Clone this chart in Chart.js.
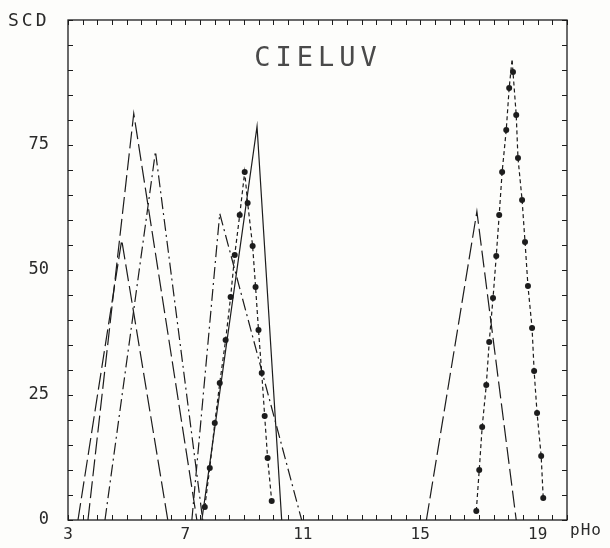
<!DOCTYPE html>
<html>
<head>
<meta charset="utf-8">
<script src="https://cdn.jsdelivr.net/npm/chart.js@4.4.1/dist/chart.umd.min.js"></script>
<style>
  html, body { margin: 0; padding: 0; background: #fdfdfb; }
  #wrap { width: 610px; height: 548px; }
</style>
</head>
<body>
<div id="wrap"><canvas id="chart_scd" width="610" height="548"></canvas></div>
<script>
// tick labels
const xLabels = [3, 7, 11, 15, 19];
const yLabels = [0, 25, 50, 75];

// long dash peaks
const pHoA = [3.68, 5.24, 7.39];
const scdA = [0, 81.3, 0];
const pHoB = [3.34, 4.83, 6.40];
const scdB = [0, 56, 0];
const pHoH = [15.21, 16.93, 18.27];
const scdH = [0, 61.7, 0];

// dash-dot peaks
const pHoC = [4.26, 5.98, 7.59];
const scdC = [0, 73.7, 0];
const pHoD = [7.22, 8.17, 10.96];
const scdD = [0, 61.3, 0];

// solid peak
const pHoE = [7.56, 9.44, 10.28];
const scdE = [0, 78.7, 0];

// dotted series with markers
const pHoF = [7.66, 7.83, 8.00, 8.17, 8.37, 8.54, 8.68, 8.85, 9.02, 9.12, 9.29, 9.39, 9.49, 9.60, 9.70, 9.80, 9.94];
const scdF = [2.6, 10.4, 19.4, 27.4, 36, 44.6, 53, 61, 69.6, 63.4, 54.8, 46.6, 38, 29.4, 20.8, 12.4, 3.8];
const pHoG = [16.91, 17.01, 17.11, 17.25, 17.35, 17.48, 17.59, 17.69, 17.79, 17.93, 18.03, 18.13, 18.16, 18.27, 18.33, 18.47, 18.57, 18.67, 18.81, 18.88, 18.98, 19.12, 19.19];
const scdG = [1.8, 10, 18.6, 27, 35.6, 44.4, 52.8, 61, 69.6, 78, 86.4, 92.2, 89.6, 81, 72.4, 64, 55.6, 46.8, 38.4, 29.8, 21.4, 12.8, 4.4];
const gPeak = 11;

const ink = "#1c1c1c";
const mono = "'DejaVu Sans Mono', 'Liberation Mono', monospace";

function pts(xs, ys) {
  return xs.map((x, i) => ({x: x, y: ys[i]}));
}

function lineSet(xs, ys, dash) {
  return {
    data: pts(xs, ys),
    borderColor: ink,
    borderWidth: 1.2,
    borderDash: dash,
    pointRadius: 0,
    fill: false,
    tension: 0
  };
}

const longDash = [17, 5];
const dashDot = [12, 4, 2, 4];

const datasets = [
  lineSet(pHoA, scdA, longDash),
  lineSet(pHoB, scdB, longDash),
  lineSet(pHoH, scdH, longDash),
  lineSet(pHoC, scdC, dashDot),
  lineSet(pHoD, scdD, dashDot),
  lineSet(pHoE, scdE, []),
  Object.assign(lineSet(pHoF, scdF, [4, 3]), {pointRadius: 3, pointBackgroundColor: ink, pointBorderColor: ink, pointBorderWidth: 0}),
  Object.assign(lineSet(pHoG, scdG, [4, 3]), {
    pointRadius: ctx => ctx.dataIndex === gPeak ? 0 : 3,
    pointBackgroundColor: ink, pointBorderColor: ink, pointBorderWidth: 0
  })
];

function spacedText(ctx, text, x, y, spacing) {
  ctx.letterSpacing = spacing + "px";
  ctx.fillText(text, x, y);
  ctx.letterSpacing = "0px";
}

// frame, inward ticks and the free texts
const framePlugin = {
  id: "frame",
  afterDraw(chart) {
    const ctx = chart.ctx;
    const a = chart.chartArea;
    const xs = chart.scales.x, ys = chart.scales.y;
    ctx.save();
    ctx.strokeStyle = ink;
    ctx.lineWidth = 1.3;
    ctx.strokeRect(a.left, a.top, a.right - a.left, a.bottom - a.top);
    ctx.lineWidth = 1;
    ctx.beginPath();
    xs.ticks.forEach(t => {
      const p = Math.round(xs.getPixelForValue(t.value)) + 0.5;
      ctx.moveTo(p, a.bottom); ctx.lineTo(p, a.bottom - 5);
      ctx.moveTo(p, a.top); ctx.lineTo(p, a.top + 5);
    });
    ys.ticks.forEach(t => {
      const p = Math.round(ys.getPixelForValue(t.value)) + 0.5;
      ctx.moveTo(a.left, p); ctx.lineTo(a.left + 5, p);
      ctx.moveTo(a.right, p); ctx.lineTo(a.right - 5, p);
    });
    ctx.stroke();

    ctx.fillStyle = "#2a2a2a";
    ctx.textBaseline = "middle";
    ctx.textAlign = "left";
    ctx.font = "18px " + mono;
    spacedText(ctx, "SCD", 8, 21, 3);
    ctx.font = "16px " + mono;
    spacedText(ctx, "pHo", 570, 531, 1);
    ctx.fillStyle = "#4a4a4a";
    ctx.font = "27px " + mono;
    ctx.textAlign = "center";
    spacedText(ctx, "CIELUV", 318, 59, 5);
    ctx.restore();
  }
};

const chart_scd = new Chart("chart_scd", {
  type: "line",
  data: {datasets: datasets},
  options: {
    responsive: false,
    animation: false,
    layout: {padding: {top: 20, right: 43, left: 0, bottom: 0}},
    plugins: {legend: {display: false}, tooltip: {enabled: false}},
    scales: {
      x: {
        type: "linear",
        min: 3,
        max: 20,
        grid: {display: false, drawTicks: false},
        border: {display: false},
        afterFit: s => { s.height = 28; s.paddingLeft = 0; s.paddingRight = 0; },
        ticks: {
          stepSize: 0.5,
          autoSkip: false,
          maxRotation: 0,
          padding: 5,
          color: "#2a2a2a",
          font: {family: mono, size: 16},
          callback: v => xLabels.includes(v) ? String(v) : ""
        }
      },
      y: {
        min: 0,
        max: 100,
        grid: {display: false, drawTicks: false},
        border: {display: false},
        afterFit: s => { s.width = 68; s.paddingTop = 0; s.paddingBottom = 0; },
        ticks: {
          stepSize: 5,
          autoSkip: false,
          padding: 19,
          color: "#2a2a2a",
          font: {family: mono, size: 17},
          callback: v => yLabels.includes(v) ? String(v) : ""
        }
      }
    }
  },
  plugins: [framePlugin]
});
</script>
</body>
</html>
